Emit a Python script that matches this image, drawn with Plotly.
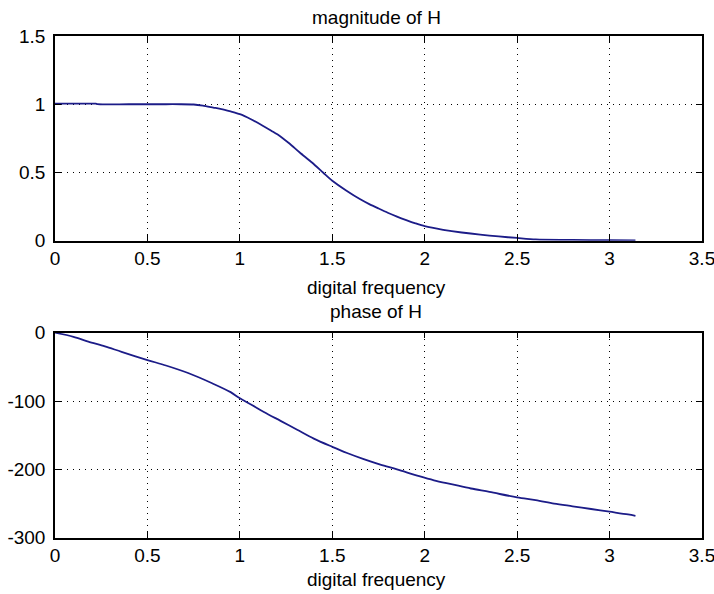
import plotly.graph_objects as go

# ---- data ----
mag_freq = [0.0, 0.1, 0.22, 0.23, 0.4, 0.6, 0.68, 0.75, 0.8, 0.856, 0.9, 0.95, 1.0, 1.06,
            1.126, 1.17, 1.216, 1.27, 1.324, 1.39, 1.45, 1.5, 1.577, 1.649, 1.7, 1.75, 1.8,
            1.85, 1.9, 1.95, 2.0, 2.1, 2.2, 2.3, 2.4, 2.5, 2.6, 2.8, 3.0, 3.14]
mag_vals = [1.004, 1.004, 1.004, 1.0, 1.0, 1.0, 1.0, 0.998, 0.99, 0.976, 0.965, 0.947, 0.927,
            0.89, 0.841, 0.806, 0.768, 0.71, 0.646, 0.573, 0.5, 0.439, 0.366, 0.305, 0.268,
            0.236, 0.205, 0.177, 0.151, 0.127, 0.106, 0.08, 0.06, 0.044, 0.031, 0.02, 0.01,
            0.006, 0.004, 0.003]

ph_freq = [0.0, 0.1, 0.18, 0.27, 0.36, 0.5, 0.6, 0.72, 0.85, 0.95, 1.0, 1.06, 1.13, 1.22,
           1.31, 1.4, 1.5, 1.58, 1.67, 1.76, 1.85, 1.97, 2.05, 2.15, 2.25, 2.35, 2.5, 2.6,
           2.7, 2.8, 2.9, 3.0, 3.1, 3.14]
ph_vals = [0, -6, -13, -20, -28, -40, -48, -59, -74, -87, -96, -105, -116, -129, -142, -155,
           -167, -176, -185, -193, -200, -210, -216, -222, -228, -233, -241, -245, -250,
           -254, -258, -262, -266, -268]

x_ticks = [0, 0.5, 1, 1.5, 2, 2.5, 3, 3.5]
x_ticktext = ["0", "0.5", "1", "1.5", "2", "2.5", "3", "3.5"]
mag_ticks = [0, 0.5, 1, 1.5]
mag_ticktext = ["0", "0.5", "1", "1.5"]
ph_ticks = [-300, -200, -100, 0]
ph_ticktext = ["-300", "-200", "-100", "0"]

W, H = 714, 594
LINE = "#1c1c88"
FONT = dict(family="Liberation Sans, Arial, sans-serif", size=19, color="#000000")

def px_x(p):
    return p / W

def px_y(p):
    return 1 - p / H

fig = go.Figure()
fig.add_trace(go.Scatter(x=mag_freq, y=mag_vals, mode="lines",
                         line=dict(color=LINE, width=1.8, simplify=False, shape="spline",
                                   smoothing=0.7),
                         xaxis="x", yaxis="y", showlegend=False, cliponaxis=False))
fig.add_trace(go.Scatter(x=ph_freq, y=ph_vals, mode="lines",
                         line=dict(color=LINE, width=1.8, simplify=False, shape="spline",
                                   smoothing=0.9),
                         xaxis="x2", yaxis="y2", showlegend=False, cliponaxis=False))

common_axis = dict(
    showline=True, linecolor="black", linewidth=1.5, mirror="ticks",
    ticks="inside", ticklen=6, tickcolor="black", tickwidth=1.2,
    showgrid=True, gridcolor="black", gridwidth=1.3, griddash="1px,5px",
    zeroline=False, tickfont=FONT, fixedrange=True, automargin=False,
    ticklabeloverflow="allow",
)

xdom = [px_x(55), px_x(702)]
fig.update_layout(
    width=W, height=H,
    margin=dict(l=0, r=0, t=0, b=0),
    paper_bgcolor="white", plot_bgcolor="white",
    font=FONT,
    xaxis=dict(common_axis, domain=xdom, range=[0, 3.5], tickvals=x_ticks,
               ticktext=x_ticktext, anchor="y", ticklabelstandoff=0),
    yaxis=dict(common_axis, domain=[px_y(240.7), px_y(36)], range=[0, 1.5],
               tickvals=mag_ticks, ticktext=mag_ticktext, anchor="x", ticklabelstandoff=4),
    xaxis2=dict(common_axis, domain=xdom, range=[0, 3.5], tickvals=x_ticks,
                ticktext=x_ticktext, anchor="y2", ticklabelstandoff=0),
    yaxis2=dict(common_axis, domain=[px_y(537.7), px_y(332.7)], range=[-300, 0],
                tickvals=ph_ticks, ticktext=ph_ticktext, anchor="x2", ticklabelstandoff=4),
)

def label(text, xc, yc):
    fig.add_annotation(text=text, x=px_x(xc), y=px_y(yc), xref="paper", yref="paper",
                       xanchor="center", yanchor="middle", showarrow=False, font=FONT)

label("magnitude of H", 376, 17)
label("digital frequency", 376, 287)
label("phase of H", 376, 311)
label("digital frequency", 376, 579)

fig.write_html("out.html")
